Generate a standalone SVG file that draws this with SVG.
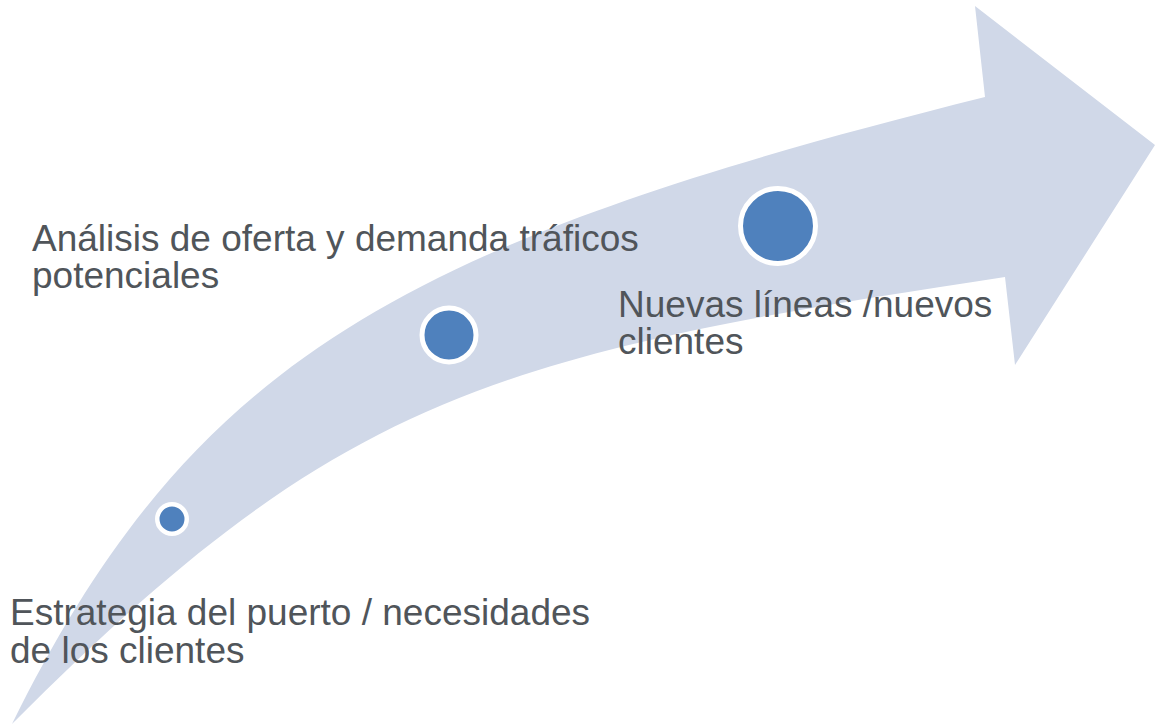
<svg xmlns="http://www.w3.org/2000/svg" width="1155" height="727" viewBox="0 0 1155 727">
<style>
.lbl{font-family:"Liberation Sans",Arial,sans-serif;font-size:37px;fill:#50555a}
.dot{fill:#4f81bd;stroke:#ffffff}
</style>
<rect width="1155" height="727" fill="#ffffff"/>
<g id="arrow">
<path d="M12 724 C192 360 401 243 985 97 L975 6 L1155 145 L1015 365 L1005 277 C489 355 338 397 12 724 Z" fill="#d0d8e8"/>
</g>
<g id="node1">
<circle class="dot" cx="172" cy="519" r="14.75" stroke-width="4.5"/>
<text class="lbl" x="10" y="625">Estrategia del puerto / necesidades</text>
<text class="lbl" x="10" y="663">de los clientes</text>
</g>
<g id="node2">
<circle class="dot" cx="449" cy="335" r="27" stroke-width="5"/>
<text class="lbl" x="32" y="251">Análisis de oferta y demanda tráficos</text>
<text class="lbl" x="32" y="288">potenciales</text>
</g>
<g id="node3">
<circle class="dot" cx="778" cy="226" r="37.5" stroke-width="5"/>
<text class="lbl" x="618" y="317">Nuevas líneas /nuevos</text>
<text class="lbl" x="618" y="354">clientes</text>
</g>
<g id="connectors"></g>
</svg>
